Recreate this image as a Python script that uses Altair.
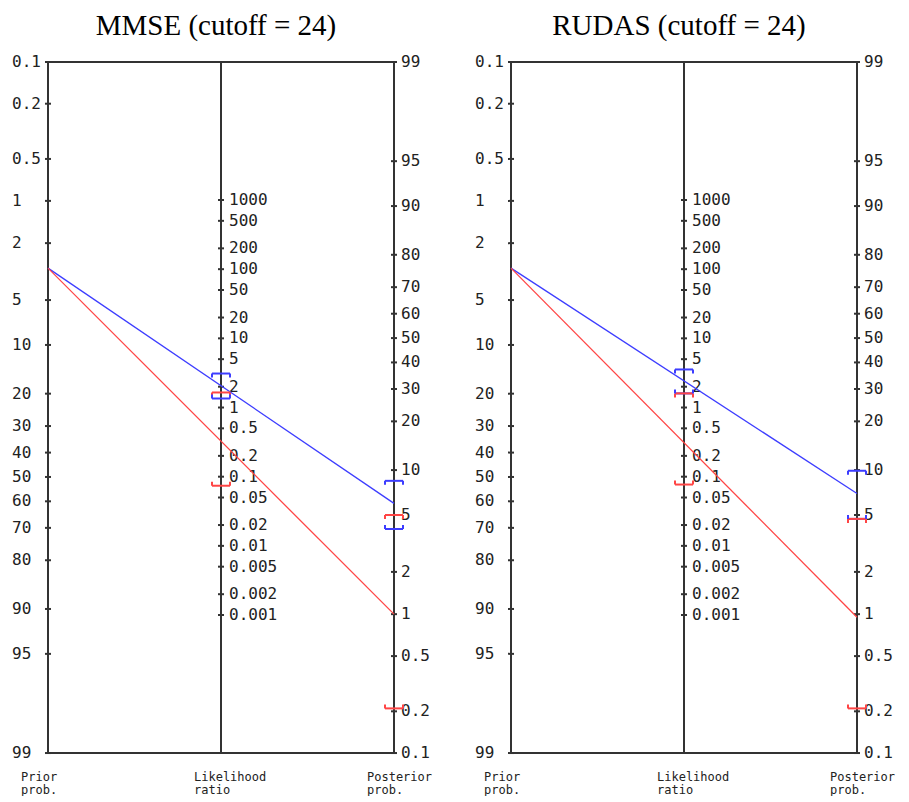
import math
import altair as alt
import pandas as pd

# ---------------- data ----------------
titles = ["MMSE (cutoff = 24)", "RUDAS (cutoff = 24)"]
prior_pct = [3.0, 3.0]                 # pre-test probability (%)
post_pos_pct = [6.0, 7.0]              # blue: post-test prob. after positive test (%)
post_neg_pct = [1.0, 0.95]             # red: post-test prob. after negative test (%)
lr_pos_ci = [[1.35, 3.1], [1.6, 3.55]]     # blue CI on likelihood ratio
lr_neg_ci = [[0.074, 1.65], [0.077, 1.6]]  # red CI on likelihood ratio
post_pos_ci = [[4.0, 8.5], [4.7, 9.9]]     # blue CI on posterior (%)
post_neg_ci = [[0.21, 5.0], [0.21, 4.7]]   # red CI on posterior (%)

prior_labels = ["0.1", "0.2", "0.5", "1", "2", "5", "10", "20", "30", "40",
                "50", "60", "70", "80", "90", "95", "99"]
lr_labels = ["1000", "500", "200", "100", "50", "20", "10", "5", "2", "1", "0.5",
             "0.2", "0.1", "0.05", "0.02", "0.01", "0.005", "0.002", "0.001"]
post_labels = ["99", "95", "90", "80", "70", "60", "50", "40", "30", "20", "10",
               "5", "2", "1", "0.5", "0.2", "0.1"]
axis_names = ["Prior\nprob.", "Likelihood\nratio", "Posterior\nprob."]

# ---------------- nomogram scales (logit / log) ----------------
def logit(pct):
    p = pct / 100.0
    return math.log(p / (1 - p))

D_TOP = logit(0.1)
D_BOT = logit(99)

def d_prior(p):
    return logit(p)

def d_post(p):
    return D_TOP + D_BOT - logit(p)

def d_lr(lr):
    return (D_TOP + D_BOT) / 2 - math.log(lr) / 2

# ---------------- layout ----------------
K = 60.08          # pixels per logit unit
W, H = 430, 786
X_LEFT = 40
XU = 346
TOP = 54
x_scale = alt.Scale(domain=[-X_LEFT / XU, (W - X_LEFT) / XU], nice=False, zero=False)
D0 = D_TOP - TOP / K
y_scale = alt.Scale(domain=[D0, D0 + H / K], reverse=True, nice=False, zero=False)

AX = "#333333"
MONO = "DejaVu Sans Mono"
color_scale = alt.Scale(domain=["pos", "neg"], range=["#3d3dff", "#ff4545"])


def X(f):
    return alt.X(f, type="quantitative", scale=x_scale, axis=None)


def Y(f):
    return alt.Y(f, type="quantitative", scale=y_scale, axis=None)


def panel(i):
    frame = pd.DataFrame({
        "x": [0, 0.5, 1, 0, 0],
        "x2": [0, 0.5, 1, 1, 1],
        "d": [D_TOP, D_TOP, D_TOP, D_TOP, D_BOT],
        "d2": [D_BOT, D_BOT, D_BOT, D_TOP, D_BOT],
    })
    ticks = pd.DataFrame(
        [{"axis": "prior", "x": 0, "d": d_prior(float(s)), "label": s} for s in prior_labels]
        + [{"axis": "lr", "x": 0.5, "d": d_lr(float(s)), "label": s} for s in lr_labels]
        + [{"axis": "post", "x": 1, "d": d_post(float(s)), "label": s} for s in post_labels]
    )
    lines = pd.DataFrame([
        {"series": "pos", "x": 0, "d": d_prior(prior_pct[i])},
        {"series": "pos", "x": 1, "d": d_post(post_pos_pct[i])},
        {"series": "neg", "x": 0, "d": d_prior(prior_pct[i])},
        {"series": "neg", "x": 1, "d": d_post(post_neg_pct[i])},
    ])
    caps = []
    for series, ci in (("pos", lr_pos_ci[i]), ("neg", lr_neg_ci[i])):
        caps.append({"series": series, "x": 0.5, "d": d_lr(ci[1]), "cap": "top"})
        caps.append({"series": series, "x": 0.5, "d": d_lr(ci[0]), "cap": "bottom"})
    for series, ci in (("pos", post_pos_ci[i]), ("neg", post_neg_ci[i])):
        caps.append({"series": series, "x": 1, "d": d_post(ci[1]), "cap": "top"})
        caps.append({"series": series, "x": 1, "d": d_post(ci[0]), "cap": "bottom"})
    caps = pd.DataFrame(caps)
    names = pd.DataFrame({"x": [0, 0.5, 1], "label": axis_names})

    layers = []
    layers.append(alt.Chart(frame).mark_rule(color=AX, strokeWidth=2).encode(
        x=X("x"), x2="x2", y=Y("d"), y2="d2"))
    layers.append(alt.Chart(ticks).mark_rule(color=AX, strokeWidth=2, xOffset=-3, x2Offset=3).encode(
        x=X("x"), x2="x", y=Y("d")))
    for ax, dx in (("prior", -36), ("lr", 8), ("post", 7)):
        layers.append(alt.Chart(ticks).transform_filter(alt.datum.axis == ax).mark_text(
            align="left", baseline="middle", dx=dx, font=MONO, fontSize=16, color="#222222"
        ).encode(x=X("x"), y=Y("d"), text="label"))
    layers.append(alt.Chart(lines).mark_line(strokeWidth=1.3).encode(
        x=X("x"), y=Y("d"),
        color=alt.Color("series:N", scale=color_scale, legend=None)))
    col = alt.Color("series:N", scale=color_scale, legend=None)
    layers.append(alt.Chart(caps).mark_rule(strokeWidth=2, xOffset=-9, x2Offset=9).encode(
        x=X("x"), x2="x", y=Y("d"), color=col))
    for cap, off in (("top", 4), ("bottom", -4)):
        for side in (-9, 9):
            layers.append(alt.Chart(caps).transform_filter(alt.datum.cap == cap).mark_rule(
                strokeWidth=2, xOffset=side, y2Offset=off).encode(
                x=X("x"), y=Y("d"), y2="d", color=col))
    layers.append(alt.Chart(names).mark_text(
        align="left", baseline="top", dx=-27, font=MONO, fontSize=12, lineBreak="\n",
        lineHeight=13, color="#222222").encode(x=X("x"), y=alt.value(764), text="label"))
    layers.append(alt.Chart(pd.DataFrame({"t": [titles[i]]})).mark_text(
        align="center", baseline="alphabetic", font="Liberation Serif", fontSize=29,
        dx=-5, color="black").encode(x=alt.datum(0.5), y=alt.value(27), text="t"))
    return alt.layer(*layers).properties(width=W, height=H)


chart = alt.hconcat(panel(0), panel(1), spacing=33).properties(
    padding=0, background="white").configure_view(stroke=None)

chart.save("out.html", embed_options={"renderer": "svg", "actions": False})
